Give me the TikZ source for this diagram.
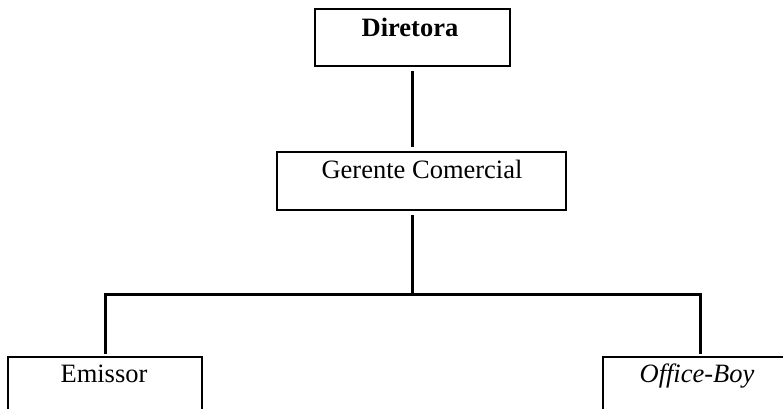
\documentclass[tikz,border=0pt]{standalone}
\usepackage{fontspec}
\setmainfont{Liberation Serif}
\begin{document}
\begin{tikzpicture}[x=1pt,y=-1pt,
  box/.style={draw=black,line width=2pt,rectangle,inner sep=0pt,fill=white},
  lbl/.style={anchor=base,inner sep=0pt,font=\fontsize{26.5}{30}\selectfont},
  conn/.style={draw=black,line width=3pt}]
\useasboundingbox (0,0) rectangle (783,408);
\clip (0,0) rectangle (783,408);
% boxes
\node[box,minimum width=195,minimum height=57] (d) at (412.5,37.5) {};
\node[box,minimum width=289,minimum height=58] (g) at (421.5,181) {};
\node[box,minimum width=194,minimum height=90] (e) at (105,402) {};
\node[box,minimum width=200,minimum height=90] (o) at (703,402) {};
% texts
\node[lbl,font=\fontsize{26.5}{30}\selectfont\bfseries] (td) at (410,36) {Diretora};
\node[lbl] (tg) at (422,178) {Gerente Comercial};
\node[lbl] (te) at (104,382) {Emissor};
\node[lbl,font=\fontsize{26.5}{30}\selectfont\itshape] (to) at (697,382) {Office-Boy};
% connectors
\coordinate (j) at (412.5,294);
\coordinate (hL) at (105,294);
\coordinate (hR) at (700,294);
\draw[conn,shorten <=4pt,shorten >=4pt] (d.south) -- (d.south |- g.north);
\draw[conn,shorten <=4pt] (j |- g.south) -- (j);
\draw[conn] ([xshift=-1.5pt]hL) -- ([xshift=1.5pt]hR);
\draw[conn,shorten >=2pt] (hL) -- (hL |- e.north);
\draw[conn,shorten >=2pt] (hR) -- (hR |- o.north);
\end{tikzpicture}
\end{document}
